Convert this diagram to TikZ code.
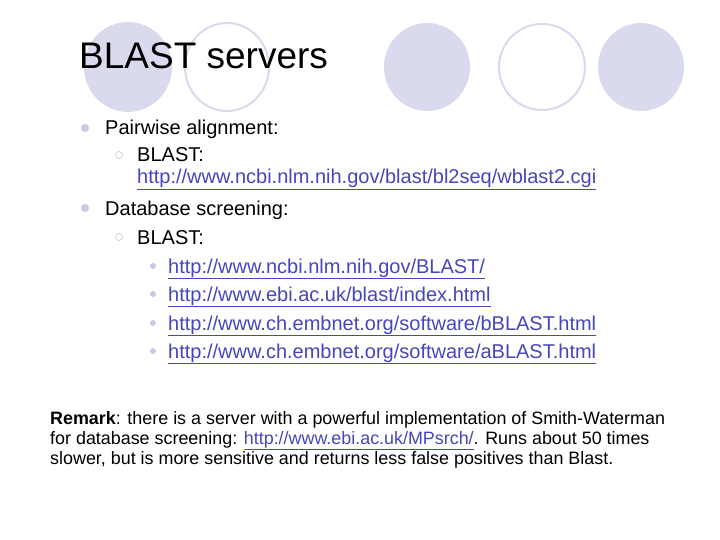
\documentclass[tikz,border=0pt]{standalone}
\usepackage{fontspec}
\setmainfont{Liberation Sans}
\definecolor{lav}{RGB}{218,218,238}
\definecolor{lavdot}{RGB}{200,200,235}
\definecolor{lnk}{RGB}{70,70,190}
\newcommand{\lk}[1]{\textcolor{lnk}{\underline{#1}}}
\begin{document}
\begin{tikzpicture}[x=1pt,y=-1pt,
  txt/.style={anchor=base west,inner sep=0pt,font=\fontsize{20}{23}\selectfont},
  rem/.style={anchor=base west,inner sep=0pt,font=\fontsize{17.9}{20}\selectfont},
  fcirc/.style={fill=lav,draw=none},
  ocirc/.style={draw=lav,line width=2pt,fill=white},
  dot1/.style={circle,fill=lavdot,inner sep=0pt,minimum size=8pt},
  dot2/.style={circle,draw=gray!60,fill=white,inner sep=0pt,minimum size=7pt},
  dot3/.style={circle,fill=lavdot,inner sep=0pt,minimum size=6pt}]
\useasboundingbox (0,0) rectangle (720,540);
\fill[white] (0,0) rectangle (720,540);
\fill[fcirc] (128,67) ellipse (44 and 45);
\draw[ocirc] (227,67) ellipse (42 and 44);
\fill[fcirc] (427,67) ellipse (43 and 44);
\draw[ocirc] (542,67) ellipse (43 and 43);
\fill[fcirc] (641,67) ellipse (43 and 44);
\node[anchor=base west,inner sep=0pt,font=\fontsize{37}{40}\selectfont] (title) at (79,69) {BLAST servers};
\node[dot1] (b1) at (85,128) {};
\node[txt] (t1) at (105,135) {Pairwise alignment:};
\node[dot2] (b2) at (119,155) {};
\node[txt] (t2) at (137,162) {BLAST:};
\node[txt] (t3) at (137,184) {\lk{http://www.ncbi.nlm.nih.gov/blast/bl2seq/wblast2.cgi}};
\node[dot1] (b3) at (85,208) {};
\node[txt] (t4) at (105,215) {Database screening:};
\node[dot2] (b4) at (119,237) {};
\node[txt] (t5) at (137,244) {BLAST:};
\node[dot3] (c1) at (153,266) {};
\node[txt] (u1) at (168,273) {\lk{http://www.ncbi.nlm.nih.gov/BLAST/}};
\node[dot3] (c2) at (153,294) {};
\node[txt] (u2) at (168,301) {\lk{http://www.ebi.ac.uk/blast/index.html}};
\node[dot3] (c3) at (153,323) {};
\node[txt] (u3) at (168,330) {\lk{http://www.ch.embnet.org/software/bBLAST.html}};
\node[dot3] (c4) at (153,351) {};
\node[txt] (u4) at (168,358) {\lk{http://www.ch.embnet.org/software/aBLAST.html}};
\node[rem] (r1) at (50,424) {\textbf{Remark}: there is a server with a powerful implementation of Smith-Waterman};
\node[rem] (r2) at (50,444) {for database screening: \lk{http://www.ebi.ac.uk/MPsrch/}. Runs about 50 times};
\node[rem] (r3) at (50,464) {slower, but is more sensitive and returns less false positives than Blast.};
\end{tikzpicture}
\end{document}
